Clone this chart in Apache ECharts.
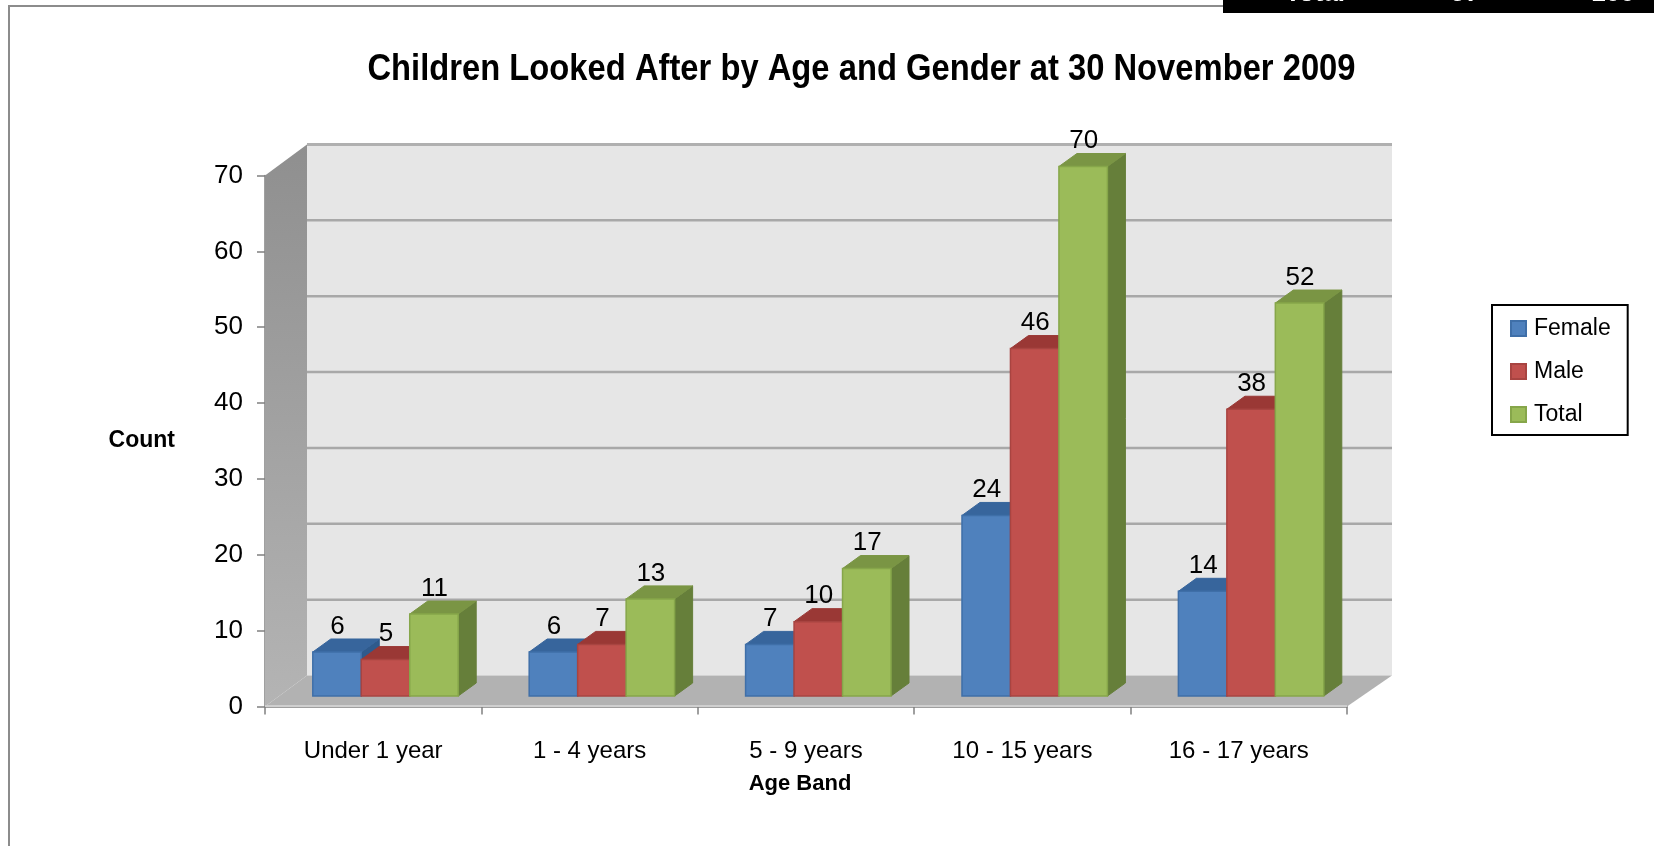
<!DOCTYPE html>
<html><head><meta charset="utf-8">
<style>html,body{margin:0;padding:0;background:#fff}#c{width:1654px;height:846px}</style>
<script src="https://cdn.jsdelivr.net/npm/echarts@6/dist/echarts.min.js"></script>
</head><body><div id="c"></div>
<script>
const chartTitle = 'Children Looked After by Age and Gender at 30 November 2009';
const categories = ['Under 1 year','1 - 4 years','5 - 9 years','10 - 15 years','16 - 17 years'];
const female = [6,6,7,24,14];
const male = [5,7,10,46,38];
const total = [11,13,17,70,52];
const gridValues = [10,20,30,40,50,60];
const tableRow = ['Total','57','100'];

const FONT = '"Liberation Sans", Arial, sans-serif';
const WALL_DX = 42, WALL_RIGHT_DX = 45, WALL_DY = -31;
const BAR_DX = 18, BAR_DY = -13;
const BASE_DX = 12.3, BASE_DY = -10.5, TOP_INSET = 1.5;
const BAR_RATIO = 0.224;

function poly(points, fill, stroke, lw){
  return {type:'polygon', shape:{points}, style:{fill, stroke: stroke||fill, lineWidth: lw===undefined?1:lw}};
}
function renderRoom(params, api){
  const s = params.coordSys, x0 = s.x, x1 = s.x + s.width;
  const y0 = api.coord([0,0])[1], y70 = api.coord([0,70])[1];
  const dx = WALL_DX, rdx = WALL_RIGHT_DX, dy = WALL_DY;
  const kids = [
    poly([[x0+dx,y0+dy],[x1+rdx,y0+dy],[x1+rdx,y70+dy],[x0+dx,y70+dy]], '#e6e6e6','#e6e6e6',0),
    {type:'polygon', shape:{points:[[x0,y0],[x0+dx,y0+dy],[x0+dx,y70+dy],[x0,y70]]},
     style:{fill:new echarts.graphic.LinearGradient(0,0,0,1,[{offset:0,color:'#8f8f8f'},{offset:1,color:'#b4b4b4'}])}},
    poly([[x0,y0],[x0+dx,y0+dy],[x1+rdx,y0+dy],[x1,y0]], '#b2b2b2','#b2b2b2',0),
    {type:'line', shape:{x1:x0,y1:y0-0.5,x2:x1,y2:y0-0.5}, style:{stroke:'#cfcfcf',lineWidth:2}},
    {type:'line', shape:{x1:x0+dx,y1:y70+dy,x2:x1+rdx,y2:y70+dy}, style:{stroke:'#b0b0b0',lineWidth:3}}
  ];
  gridValues.forEach(v=>{
    const y = api.coord([0,v])[1]+dy;
    kids.push({type:'line', shape:{x1:x0+dx,y1:y,x2:x1+rdx,y2:y}, style:{stroke:'#a8a8a8',lineWidth:2.5}});
  });
  return {type:'group', children:kids};
}
function barRenderer(slot, front, top, side, edge){
  return function(params, api){
    const i = api.value(0), v = api.value(1);
    const bandW = api.size([1,0])[0], w = bandW*BAR_RATIO;
    const c = api.coord([i,v]), b = api.coord([i,0]);
    const xl = c[0] + BASE_DX + slot*w - w/2, xr = xl + w;
    const yt = c[1] + BASE_DY + TOP_INSET, yb = b[1] + BASE_DY;
    return {type:'group', children:[
      poly([[xr,yt],[xr+BAR_DX,yt+BAR_DY],[xr+BAR_DX,yb+BAR_DY],[xr,yb]], side),
      poly([[xl,yt],[xl+BAR_DX,yt+BAR_DY],[xr+BAR_DX,yt+BAR_DY],[xr,yt]], top),
      poly([[xl,yb],[xl,yt],[xr,yt],[xr,yb]], front, edge, 1.5),
      {type:'text', x:(xl+xr)/2+0.5, y:yt-25.5, z2:100, style:{text:String(v),fontSize:26,fontFamily:FONT,fill:'#000',align:'center',verticalAlign:'middle'}}
    ]};
  };
}
function rows(arr){ return arr.map((v,i)=>[i,v]); }
function barSeries(name, arr, slot, front, top, side, edge){
  return {type:'custom', name, data:rows(arr), encode:{x:0,y:1}, itemStyle:{color:front,borderColor:edge,borderWidth:1.5},
    clip:false, renderItem:barRenderer(slot,front,top,side,edge), z:3+slot};
}
function bandText(text, x){
  return {type:'text',silent:true,x,y:6.5,style:{text,fill:'#fff',fontFamily:FONT,fontWeight:'bold',fontSize:26,align:'center',verticalAlign:'bottom'}};
}
const chart = echarts.init(document.getElementById('c'),null,{renderer:'canvas'});
chart.setOption({
  animation:false,
  backgroundColor:'#fff',
  textStyle:{fontFamily:FONT,color:'#000'},
  legend:{data:['Female','Male','Total'],orient:'vertical',left:1492,top:305,itemWidth:15,itemHeight:15,itemGap:20,
    padding:[12,17,9,18],borderColor:'#000',borderWidth:2,icon:'rect',
    textStyle:{fontFamily:FONT,fontSize:23,color:'#000',padding:[0,0,0,3]}},
  grid:{left:265,top:175.5,width:1082,height:531},
  xAxis:{type:'category',data:categories,name:'Age Band',nameLocation:'middle',nameGap:66.5,
    nameTextStyle:{fontFamily:FONT,fontSize:22,fontWeight:'bold',color:'#000',padding:[0,12,0,0]},
    axisLine:{show:true,lineStyle:{color:'#808080',width:1.5}},
    axisTick:{show:true,length:8,lineStyle:{color:'#808080',width:1.5}},
    axisLabel:{fontFamily:FONT,fontSize:24,color:'#000',margin:33,interval:0}},
  yAxis:{type:'value',min:0,max:70,interval:10,name:'Count',nameLocation:'middle',nameGap:90,nameRotate:0,
    nameTextStyle:{fontFamily:FONT,fontSize:23,fontWeight:'bold',color:'#000'},
    axisLine:{show:true,lineStyle:{color:'#808080',width:1.5}},
    axisTick:{show:true,length:8,lineStyle:{color:'#808080',width:1.5}},
    axisLabel:{fontFamily:FONT,fontSize:26,color:'#000',margin:22},
    splitLine:{show:false}},
  graphic:[
    {type:'polyline',silent:true,shape:{points:[[9,846],[9,6],[1223,6]]},style:{stroke:'#8c8c8c',lineWidth:2,fill:'none'}},
    {type:'rect',silent:true,shape:{x:1223,y:0,width:431,height:13},style:{fill:'#000'}},
    bandText(tableRow[0],1315), bandText(tableRow[1],1465), bandText(tableRow[2],1613),
    {type:'text',silent:true,x:861.5,y:70,scaleX:0.885,style:{text:chartTitle,fill:'#000',fontFamily:FONT,fontWeight:'bold',fontSize:37,align:'center',verticalAlign:'middle'}}
  ],
  series:[
    {type:'custom',name:'room',data:[[0,0]],encode:{x:0,y:1},renderItem:renderRoom,clip:false,silent:true,z:1},
    barSeries('Female',female,-1,'#4f81bd','#37659c','#2f5a8c','#3f6fa8'),
    barSeries('Male',male,0,'#c0504d','#9a3835','#8c3431','#a84441'),
    barSeries('Total',total,1,'#9bbb59','#7a9544','#667f3a','#86a64a')
  ]
});
</script></body></html>
